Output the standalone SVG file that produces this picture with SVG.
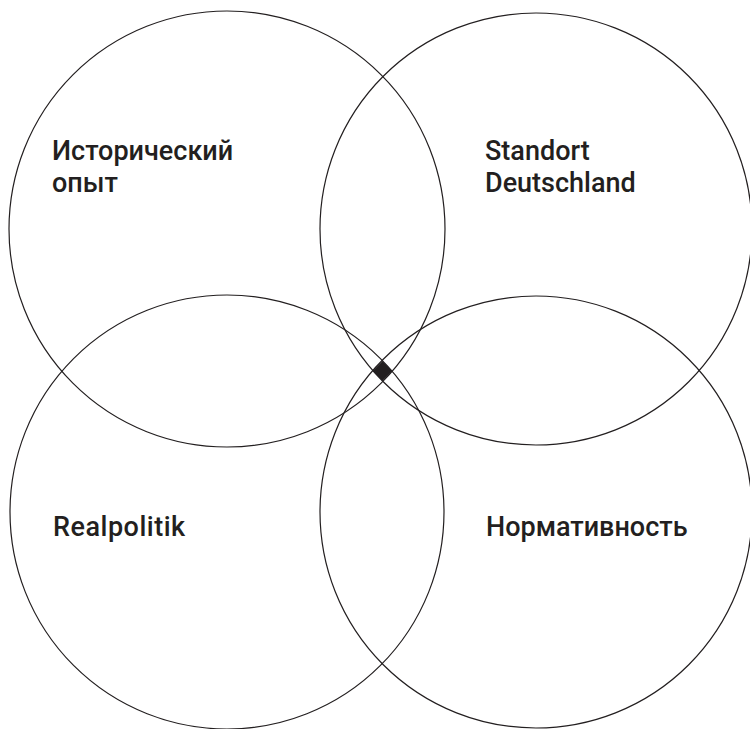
<svg xmlns="http://www.w3.org/2000/svg" width="750" height="729" viewBox="0 0 750 729">
<style>
.c{fill:none;stroke:#231f20;stroke-width:1.2}
.t{font-family:Roboto,"Liberation Sans",sans-serif;font-weight:500;font-size:27px;fill:#231f20}
</style>
<rect width="750" height="729" fill="#fff"/>
<g id="n1"><circle class="c" cx="227" cy="229" r="218"/><text class="t" x="52" y="160">Исторический</text><text class="t" x="52" y="192">опыт</text></g>
<g id="n2"><circle class="c" cx="536" cy="229" r="216"/><text class="t" x="485" y="160">Standort</text><text class="t" x="485" y="192">Deutschland</text></g>
<g id="n3"><circle class="c" cx="227" cy="512" r="217"/><text class="t" x="53" y="536" letter-spacing="0.5">Realpolitik</text></g>
<g id="n4"><circle class="c" cx="536" cy="512" r="216"/><text class="t" x="486" y="536">Нормативность</text></g>
<g id="connectors"><polygon points="382.5,361 392.5,371 382.5,381 372.5,371" fill="#231f20"/></g>
</svg>
